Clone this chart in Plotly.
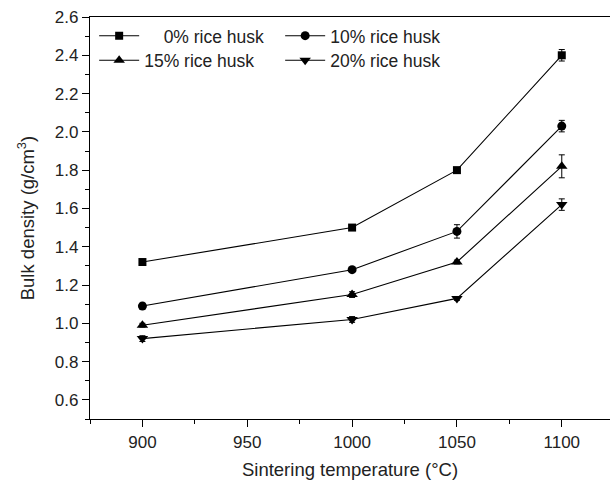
import plotly.graph_objects as go

temps = [900, 1000, 1050, 1100]
names = ["\u2007\u20070% rice husk", "10% rice husk", "15% rice husk", "20% rice husk"]
density_0 = [1.32, 1.50, 1.80, 2.40]
density_10 = [1.09, 1.28, 1.48, 2.03]
density_15 = [0.99, 1.15, 1.32, 1.82]
density_20 = [0.92, 1.02, 1.13, 1.62]
err_0 = [0.01, 0.01, 0.01, 0.03]
err_10 = [0.015, 0.01, 0.035, 0.03]
err_15 = [0.01, 0.015, 0.01, 0.06]
err_20 = [0.015, 0.015, 0.01, 0.03]

series = [
    (names[0], density_0, err_0, "square", 8, "legend"),
    (names[1], density_10, err_10, "circle", 9, "legend"),
    (names[2], density_15, err_15, "triangle-up", 10, "legend2"),
    (names[3], density_20, err_20, "triangle-down", 10, "legend2"),
]

FONT = "Liberation Sans, Arial, sans-serif"
TXT = "#222222"

fig = go.Figure()
for name, ys, es, sym, sz, lg in series:
    fig.add_trace(go.Scatter(
        x=temps, y=ys, name=name, mode="lines+markers",
        line=dict(color="black", width=1.1),
        marker=dict(symbol=sym, size=sz, color="black"),
        error_y=dict(type="data", array=es, visible=True, color="black",
                     thickness=1, width=3),
        legend=lg,
    ))

legend_common = dict(
    orientation="h", xanchor="left", yanchor="top",
    font=dict(family=FONT, size=17.5, color=TXT),
    bgcolor="rgba(0,0,0,0)", entrywidth=131, entrywidthmode="pixels",
    itemwidth=40, tracegroupgap=0,
)

fig.update_layout(
    width=610, height=487,
    margin=dict(l=90, r=0, t=17, b=68),
    paper_bgcolor="white", plot_bgcolor="white",
    font=dict(family=FONT, size=17, color=TXT),
    legend=dict(x=0.008, y=0.998, **legend_common),
    legend2=dict(x=0.008, y=0.937, **legend_common),
    xaxis=dict(
        range=[875, 1123], tickvals=[900, 950, 1000, 1050, 1100],
        showline=True, linecolor="black", linewidth=1.3, mirror=True,
        ticks="outside", ticklen=7, tickwidth=1.3, tickcolor="black",
        minor=dict(dtick=25, ticks="outside", ticklen=4, tickcolor="black", tickwidth=1.1),
        showgrid=False, zeroline=False,
        tickfont=dict(size=17),
        title=dict(text="Sintering temperature (\u00b0C)", font=dict(size=18.5), standoff=12),
    ),
    yaxis=dict(
        range=[0.5, 2.6], tickvals=[0.6, 0.8, 1.0, 1.2, 1.4, 1.6, 1.8, 2.0, 2.2, 2.4, 2.6],
        tickformat=".1f",
        showline=True, linecolor="black", linewidth=1.3,
        ticks="outside", ticklen=7, tickwidth=1.3, tickcolor="black",
        minor=dict(dtick=0.1, tick0=0.5, ticks="outside", ticklen=4, tickcolor="black", tickwidth=1.1),
        showgrid=False, zeroline=False,
        tickfont=dict(size=17),
        title=dict(text="Bulk density (g/cm<sup>3</sup>)", font=dict(size=18.5), standoff=15),
    ),
)

fig.write_html("out.html")
